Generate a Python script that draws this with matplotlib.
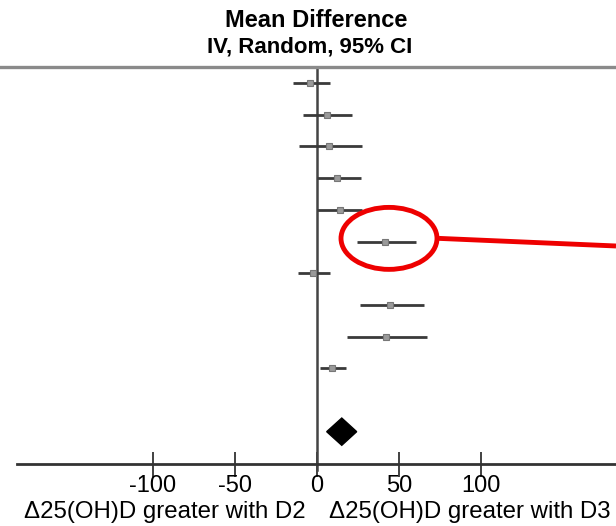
import matplotlib
matplotlib.use("Agg")
import matplotlib.pyplot as plt
from matplotlib.patches import Ellipse, Polygon
import numpy as np

plt.rcParams['font.family'] = ['Liberation Sans', 'DejaVu Sans']

# Study estimates (mean difference, 95% CI)
means = [-4.3, 5.9, 7.5, 12.4, 14.0, 41.5, -2.2, 44.5, 42.1, 8.9]
lower = [-14.8, -8.4, -11.0, 0.2, 0.2, 24.2, -11.4, 26.2, 18.5, 1.8]
upper = [7.9, 21.2, 27.3, 26.6, 27.3, 60.4, 7.9, 65.2, 66.9, 17.5]
# Pooled estimate
pooled_mean = 15.1
pooled_low = 5.9
pooled_high = 24.2

tick_values = [-100, -50, 0, 50, 100]
tick_labels = ["-100", "-50", "0", "50", "100"]
title_lines = ["Mean Difference", "IV, Random, 95% CI"]
left_label = "Δ25(OH)D greater with D2"
right_label = "Δ25(OH)D greater with D3"

W, H = 616, 526
fig = plt.figure(figsize=(W / 100, H / 100), dpi=100)
ax_left_px, ax_right_px = 17, 616
ax_top_px, ax_bot_px = 66, 464
ax = fig.add_axes([ax_left_px / W, 1 - ax_bot_px / H,
                   (ax_right_px - ax_left_px) / W, (ax_bot_px - ax_top_px) / H])

px_per_unit = 1.64
x0_px = 317
ax.set_xlim((ax_left_px - x0_px) / px_per_unit, (ax_right_px - x0_px) / px_per_unit)
ax.set_ylim(12.02, -0.54)

rows = np.arange(len(means))
for r, m, lo, hi in zip(rows, means, lower, upper):
    ax.plot([lo, hi], [r, r], color='#3a3a3a', lw=2, solid_capstyle='butt', zorder=3)
    ax.plot([m], [r], marker='s', ms=5, mfc='#9a9a9a', mec='#777777', mew=0.8, zorder=4)

# pooled diamond
dr = 11
dh = 0.43
diamond = Polygon([[pooled_low, dr], [pooled_mean, dr - dh], [pooled_high, dr], [pooled_mean, dr + dh]],
                  closed=True, facecolor='black', edgecolor='black', zorder=4)
ax.add_patch(diamond)

# zero line
ax.axvline(0, color='#444444', lw=1.8, zorder=2)
ax.plot([0, 0], [12.02, 12.22], color='#444444', lw=1.8, clip_on=False)

for s in ['left', 'right']:
    ax.spines[s].set_visible(False)
ax.spines['bottom'].set_color('#333333')
ax.spines['bottom'].set_linewidth(2)
ax.spines['top'].set_visible(False)
ax.set_yticks([])
ax.set_xticks(tick_values)
ax.set_xticklabels(tick_labels, fontsize=17)
ax.tick_params(axis='x', direction='inout', length=18, width=1.3, color='#333333', pad=-1)

# top rule across the full width
fig.add_artist(plt.Line2D([0, 1], [1 - 66.5 / H, 1 - 66.5 / H], color='#8a8a8a', lw=2.4))

# title
fig.text(316 / W, 1 - 20.5 / H, title_lines[0], ha='center', va='center', fontsize=17, fontweight='bold')
fig.text(310 / W, 1 - 47.5 / H, title_lines[1], ha='center', va='center', fontsize=16, fontweight='bold')

# bottom labels
fig.text(165 / W, 1 - 512 / H, left_label, ha='center', va='center', fontsize=17.3)
fig.text(469.5 / W, 1 - 512 / H, right_label, ha='center', va='center', fontsize=17.3)

# red highlight
ell = Ellipse(((389 - x0_px) / px_per_unit, 4.9), 96 / px_per_unit, 62 / 31.7,
              facecolor='none', edgecolor='#ee0000', lw=3.5, zorder=5, clip_on=False)
ax.add_patch(ell)
ax.plot([(439 - x0_px) / px_per_unit, (616 - x0_px) / px_per_unit], [4.9, 5.14],
        color='#ee0000', lw=3.5, zorder=5, clip_on=False, solid_capstyle='butt')

fig.savefig('out.png', dpi=100)
